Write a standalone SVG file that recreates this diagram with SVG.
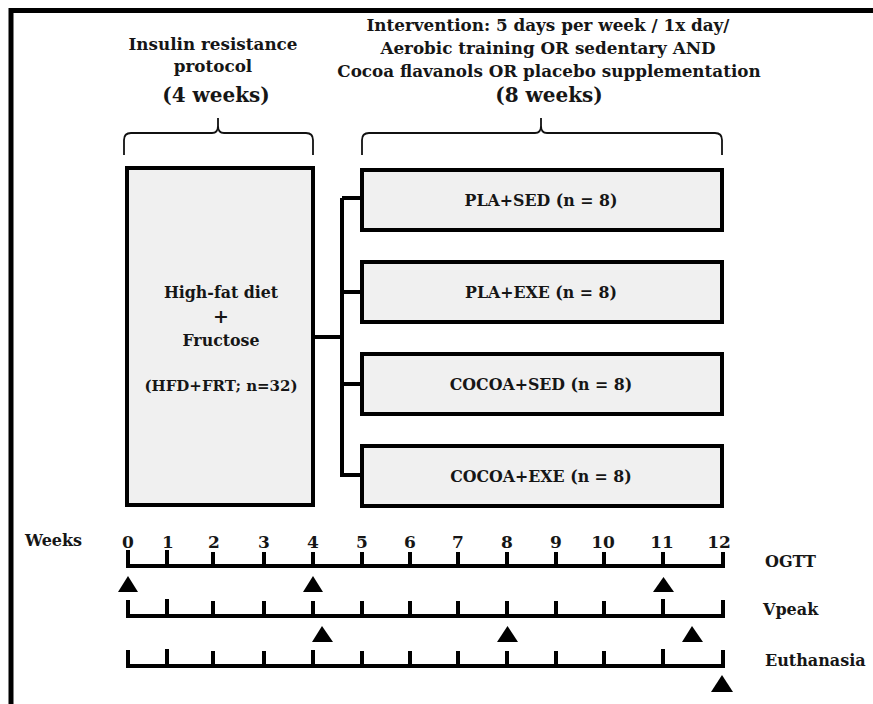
<svg xmlns="http://www.w3.org/2000/svg" width="873" height="704" viewBox="0 0 873 704">
<style>
text{font-family:"DejaVu Serif","Liberation Serif",serif;font-weight:bold;fill:#161616}
.t{font-size:16.8px;text-anchor:middle}
.big{font-size:20px;text-anchor:middle}
.lbl{font-size:15.8px;text-anchor:middle}
.num{font-size:17px;text-anchor:middle}
.side{font-size:16px}
.box{fill:#f0f0f0;stroke:#000;stroke-width:4}
.ln{fill:none;stroke:#000;stroke-width:4}
.brace{fill:none;stroke:#111;stroke-width:1.8}
.tri{fill:#000}
</style>
<rect x="0" y="0" width="873" height="704" fill="#fff"/>
<path d="M11,704 V10.5 H880" fill="none" stroke="#000" stroke-width="5"/>

<g id="title-left">
<text class="t" x="213" y="50">Insulin resistance</text>
<text class="t" x="213" y="72">protocol</text>
<text class="big" x="216" y="102">(4 weeks)</text>
</g>
<g id="title-right">
<text class="t" x="548" y="31">Intervention: 5 days per week / 1x day/</text>
<text class="t" x="548" y="54">Aerobic training OR sedentary AND</text>
<text class="t" x="549" y="77">Cocoa flavanols OR placebo supplementation</text>
<text class="big" x="549" y="102">(8 weeks)</text>
</g>
<g id="braces">
<path class="brace" d="M124,155 V140 Q124,133 131,133 H212 Q218,133 218,126 V118 M218,126 Q218,133 224,133 H306 Q313,133 313,140 V155"/>
<path class="brace" d="M362,155 V140 Q362,133 369,133 H535 Q541,133 541,126 V118 M541,126 Q541,133 547,133 H715 Q722,133 722,140 V155"/>
</g>

<g id="connectors">
<path class="ln" d="M313,337 H342 M342,198 V477 M342,198 H362 M342,292 H362 M342,384 H362 M342,475 H362"/>
</g>

<g id="hfd">
<rect class="box" x="127" y="168" width="186" height="337"/>
<text class="lbl" x="221" y="298">High-fat diet</text>
<text class="lbl" x="221" y="323" style="font-size:19px">+</text>
<text class="lbl" x="221" y="346">Fructose</text>
<text class="lbl" x="221" y="391" style="font-size:15px">(HFD+FRT; n=32)</text>
</g>
<g id="pla-sed">
<rect class="box" x="362" y="170" width="360" height="60"/>
<text class="lbl" x="541" y="206">PLA+SED (n = 8)</text>
</g>
<g id="pla-exe">
<rect class="box" x="362" y="262" width="360" height="60"/>
<text class="lbl" x="541" y="298">PLA+EXE (n = 8)</text>
</g>
<g id="cocoa-sed">
<rect class="box" x="362" y="354" width="360" height="60"/>
<text class="lbl" x="541" y="390">COCOA+SED (n = 8)</text>
</g>
<g id="cocoa-exe">
<rect class="box" x="362" y="446" width="360" height="60"/>
<text class="lbl" x="541" y="482">COCOA+EXE (n = 8)</text>
</g>

<g id="timeline">
<text class="side" x="25" y="546">Weeks</text>
<text class="num" x="128" y="548">0</text>
<text class="num" x="168" y="548">1</text>
<text class="num" x="214" y="548">2</text>
<text class="num" x="264" y="548">3</text>
<text class="num" x="313" y="548">4</text>
<text class="num" x="362" y="548">5</text>
<text class="num" x="410" y="548">6</text>
<text class="num" x="458" y="548">7</text>
<text class="num" x="507" y="548">8</text>
<text class="num" x="556" y="548">9</text>
<text class="num" x="603" y="548">10</text>
<text class="num" x="662" y="548">11</text>
<text class="num" x="719" y="548">12</text>
<path class="ln" d="M128,550 V566 H723 V552 M167,550 V566 M213,552 V566 M264,552 V566 M313,552 V566 M362,552 V566 M410,552 V566 M458,552 V566 M507,552 V566 M556,552 V566 M604,552 V566 M663,552 V566"/>
<path class="ln" d="M128,600 V616 H723 V600 M167,599 V616 M213,601 V616 M264,601 V616 M313,601 V616 M362,601 V616 M410,601 V616 M458,601 V616 M507,601 V616 M556,601 V616 M604,601 V616 M663,599 V616"/>
<path class="ln" d="M128,650 V666 H723 V650 M167,649 V666 M213,651 V666 M264,651 V666 M313,650 V666 M362,651 V666 M410,651 V666 M458,651 V666 M507,651 V666 M556,651 V666 M604,651 V666 M663,649 V666"/>
<polygon class="tri" points="128,576 138,592 118,592"/>
<polygon class="tri" points="313,576 323,592 303,592"/>
<polygon class="tri" points="663.5,577 674,592 653,592"/>
<polygon class="tri" points="322,626 333,642 312,642"/>
<polygon class="tri" points="507.5,626 518,642 497,642"/>
<polygon class="tri" points="692,626 703,642 682,642"/>
<polygon class="tri" points="722,675 733,692 711,692"/>
<text class="side" x="765" y="567">OGTT</text>
<text class="side" x="763" y="615">Vpeak</text>
<text class="side" x="765" y="666">Euthanasia</text>
</g>
</svg>
